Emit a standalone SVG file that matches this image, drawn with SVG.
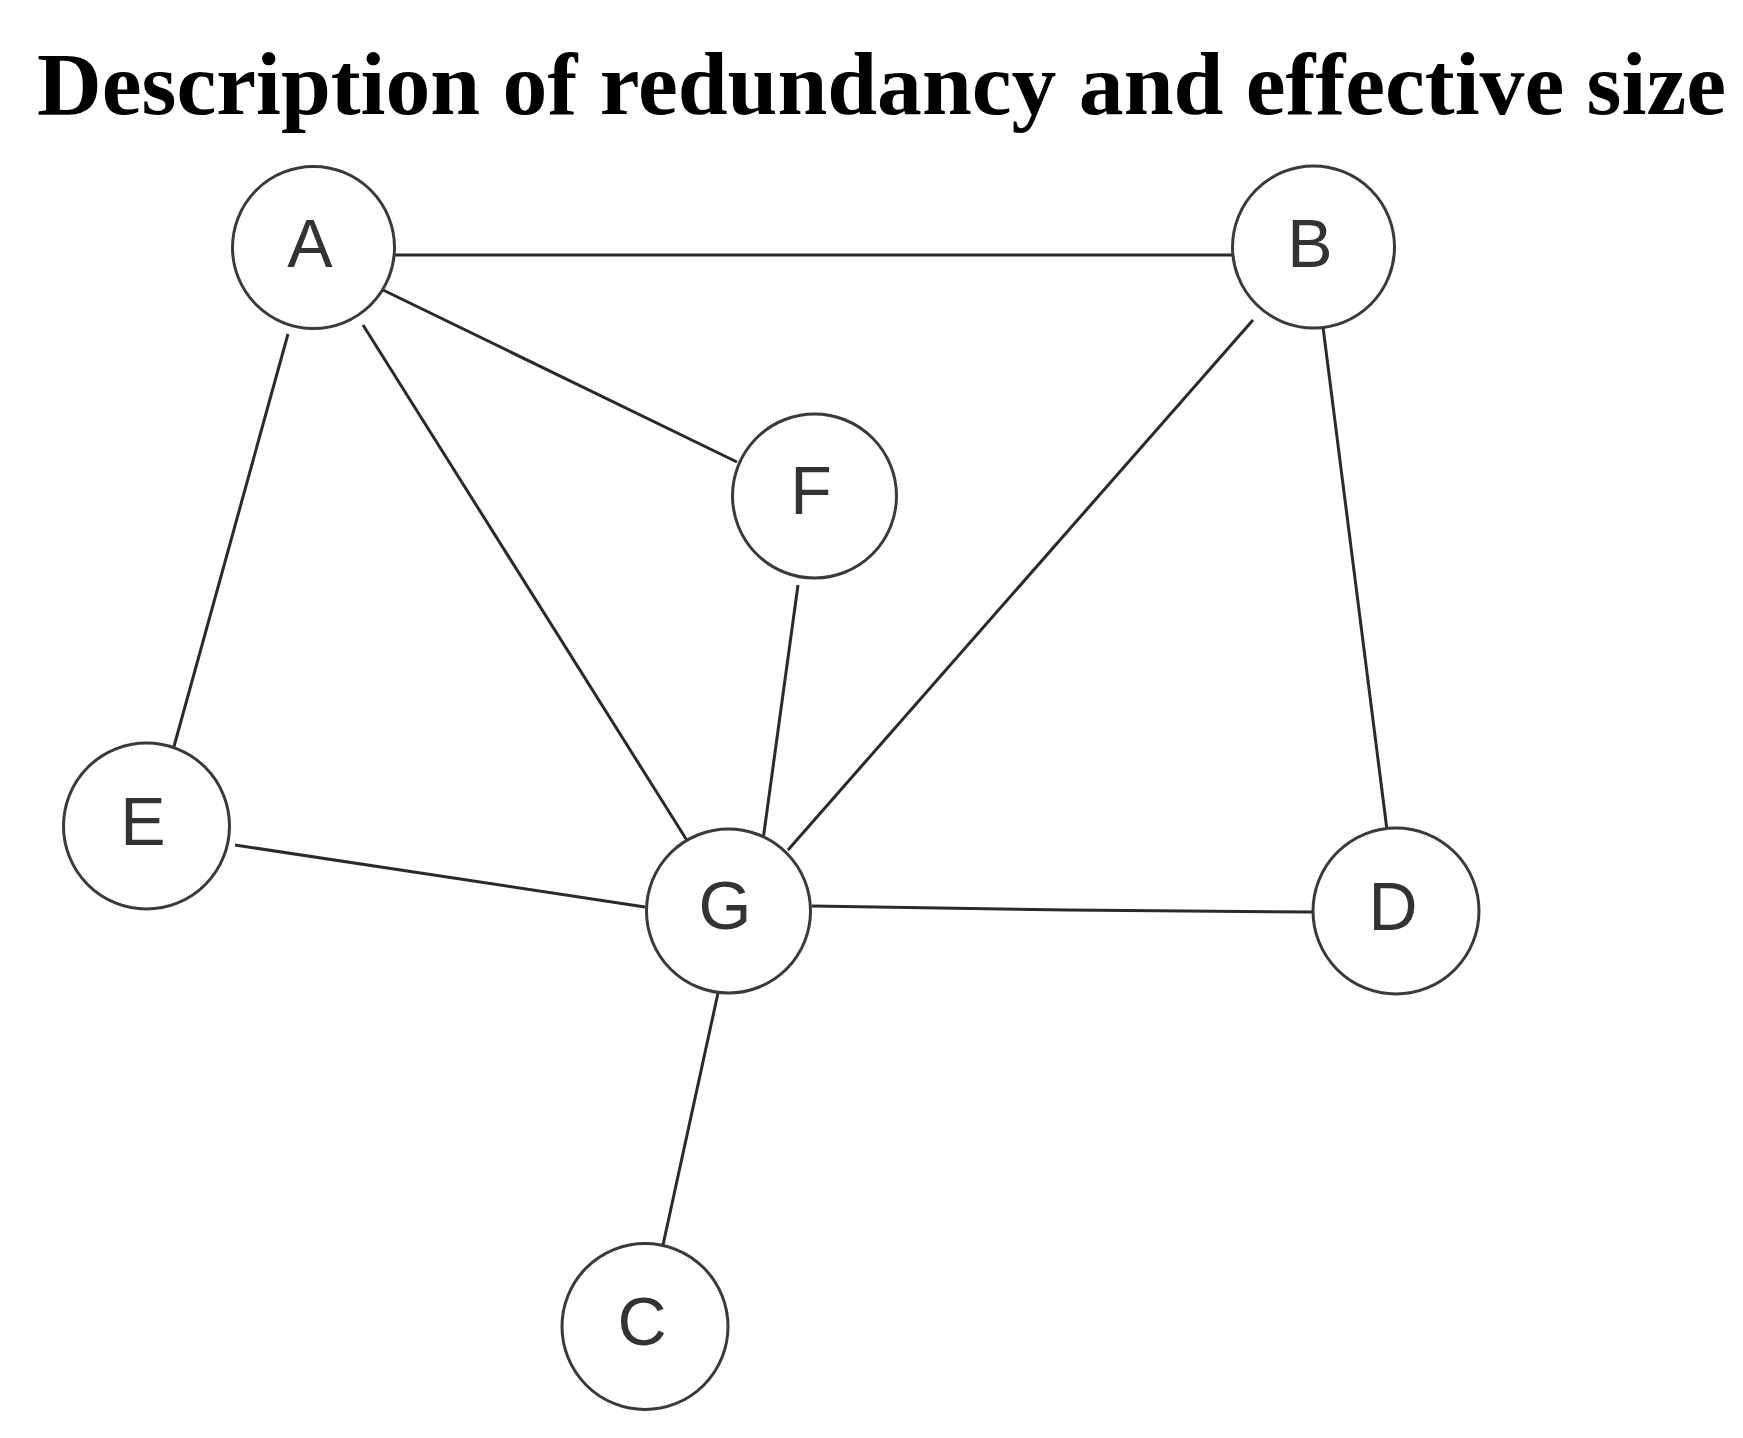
<svg xmlns="http://www.w3.org/2000/svg" width="1743" height="1438" viewBox="0 0 1743 1438">
<style>
.title{font-family:"Liberation Serif","Times New Roman",serif;font-weight:bold;font-size:88px;fill:#000}
.node circle{fill:#fff;stroke:#3a3a3a;stroke-width:3}
.node text{font-family:"Liberation Sans",Arial,sans-serif;font-size:68px;fill:#333;text-anchor:middle}
.edges line,.edges polyline{stroke:#2a2a2a;stroke-width:3;fill:none}
</style>
<rect width="1743" height="1438" fill="#fff"/>
<text class="title" x="37" y="114" textLength="1689" lengthAdjust="spacingAndGlyphs">Description of redundancy and effective size</text>
<g class="edges" id="edges">
<line x1="395" y1="255" x2="1232" y2="255"/>
<line x1="383" y1="290" x2="737" y2="462"/>
<line x1="288" y1="334" x2="173" y2="750"/>
<line x1="363" y1="325" x2="688" y2="842"/>
<line x1="798" y1="585" x2="763" y2="840"/>
<line x1="1253" y1="320" x2="788" y2="850"/>
<line x1="1323" y1="327" x2="1387" y2="830"/>
<line x1="235" y1="845" x2="645" y2="907"/>
<polyline points="812,906 1068,910 1312,912"/>
<line x1="718" y1="993" x2="663" y2="1245"/>
</g>
<g class="node" id="node-A"><circle cx="313.5" cy="247.5" r="81"/><text x="310" y="267">A</text></g>
<g class="node" id="node-B"><circle cx="1313.5" cy="247" r="81"/><text x="1310" y="267">B</text></g>
<g class="node" id="node-F"><circle cx="814.5" cy="496" r="82"/><text x="811" y="514">F</text></g>
<g class="node" id="node-E"><circle cx="146.5" cy="826" r="83"/><text x="143" y="845">E</text></g>
<g class="node" id="node-G"><circle cx="728.5" cy="911" r="82"/><text x="725" y="929">G</text></g>
<g class="node" id="node-D"><circle cx="1396" cy="911" r="83"/><text x="1393" y="930">D</text></g>
<g class="node" id="node-C"><circle cx="645" cy="1326.5" r="83"/><text x="642" y="1345">C</text></g>
</svg>
